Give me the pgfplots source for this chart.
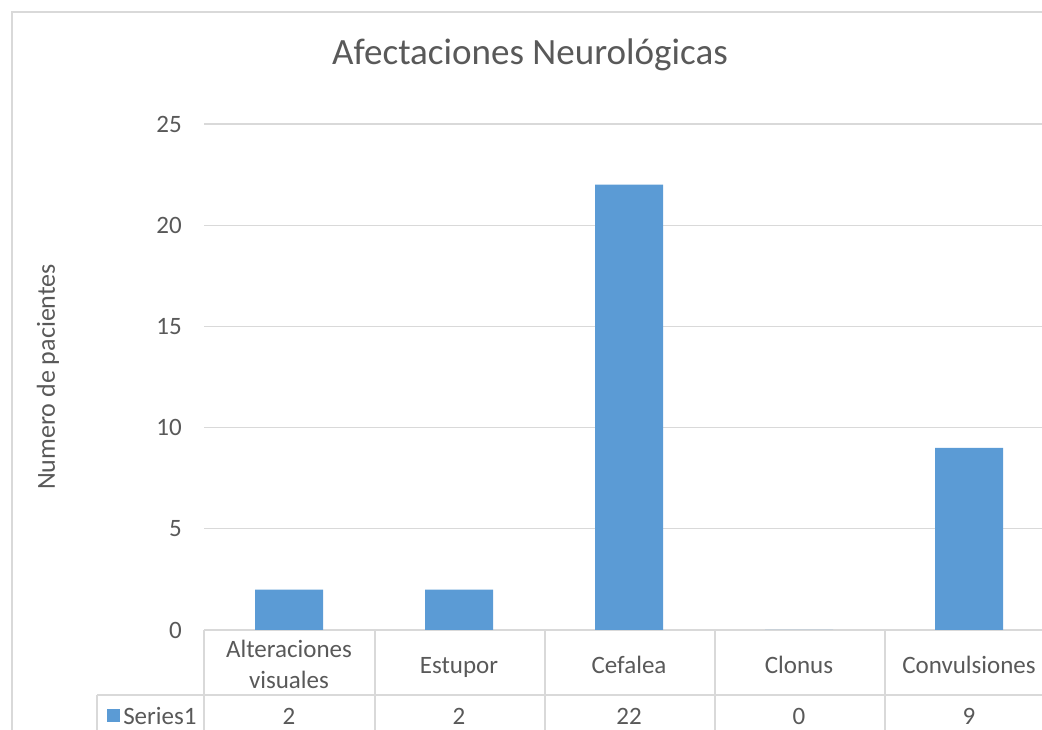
\documentclass[border=0pt]{standalone}
\usepackage{pgfplots}
\pgfplotsset{compat=1.18}
\usepackage{fontspec}
\setmainfont{Carlito}
\definecolor{barblue}{HTML}{5B9BD5}
\definecolor{txtgrey}{HTML}{595959}
\definecolor{linegrey}{HTML}{D9D9D9}
\newcommand{\lbl}{\fontsize{18.75pt}{23.25pt}\selectfont}

\begin{document}
\begin{tikzpicture}[x=0.75pt,y=0.75pt]
% picture is 1042 x 730 px, y measured from the bottom
\useasboundingbox (0,0) rectangle (1042,730);

\begin{axis}[
  at={(204*0.75pt,100*0.75pt)}, anchor=south west,
  scale only axis, width=628.5pt, height=379.5pt,
  ybar, bar width=0.4, bar shift=0pt,
  xmin=-0.5, xmax=4.4294, ymin=0, ymax=25,
  ytick={0,5,...,25},
  xtick={0,1,2,3,4},
  xticklabels={\strut Alteraciones\\\strut visuales, \strut Estupor, \strut Cefalea, \strut Clonus, \strut Convulsiones},
  axis lines*=left,
  x axis line style={draw=linegrey, line width=1pt},
  y axis line style={draw=none},
  major tick length=0pt,
  ymajorgrids, grid style={draw=linegrey, line width=1pt},
  /pgf/number format/assume math mode=true,
  yticklabel style={font=\lbl, text=txtgrey, anchor=east, inner sep=0pt, xshift=-16.5pt},
  xticklabel style={font=\lbl, text=txtgrey, anchor=center, align=center, inner sep=0pt, yshift=-27.75pt},
  clip=false,
]
\addplot[fill=barblue, draw=none] coordinates {(0,2) (1,2) (2,22) (3,0) (4,9)};
% data table values row
\node[font=\lbl, text=txtgrey] at (axis cs:0,0) [yshift=-64.5pt] {2};
\node[font=\lbl, text=txtgrey] at (axis cs:1,0) [yshift=-64.5pt] {2};
\node[font=\lbl, text=txtgrey] at (axis cs:2,0) [yshift=-64.5pt] {22};
\node[font=\lbl, text=txtgrey] at (axis cs:3,0) [yshift=-64.5pt] {0};
\node[font=\lbl, text=txtgrey] at (axis cs:4,0) [yshift=-64.5pt] {9};
\end{axis}

% outer chart frame
\draw[linegrey, line width=1.5pt] (12,0) -- (12,718) -- (1042,718);
% data table grid
\draw[linegrey, line width=1pt] (97,35) -- (1042,35);
\draw[linegrey, line width=1pt] (97,0) -- (97,35);
\foreach \x in {204,375,545,715,885}
  \draw[linegrey, line width=1pt] (\x,0) -- (\x,100);
% legend key in table
\fill[barblue] (107,8) rectangle (120,21);
\node[font=\lbl, text=txtgrey, anchor=west, inner sep=0pt] at (123,14) {Series1};
% titles
\node[font=\fontsize{27.8pt}{32pt}\selectfont, text=txtgrey] at (530,675) {Afectaciones Neurológicas};
\node[font=\fontsize{19.5pt}{23pt}\selectfont, text=txtgrey, rotate=90] at (48,353) {Numero de pacientes};
\end{tikzpicture}
\end{document}
